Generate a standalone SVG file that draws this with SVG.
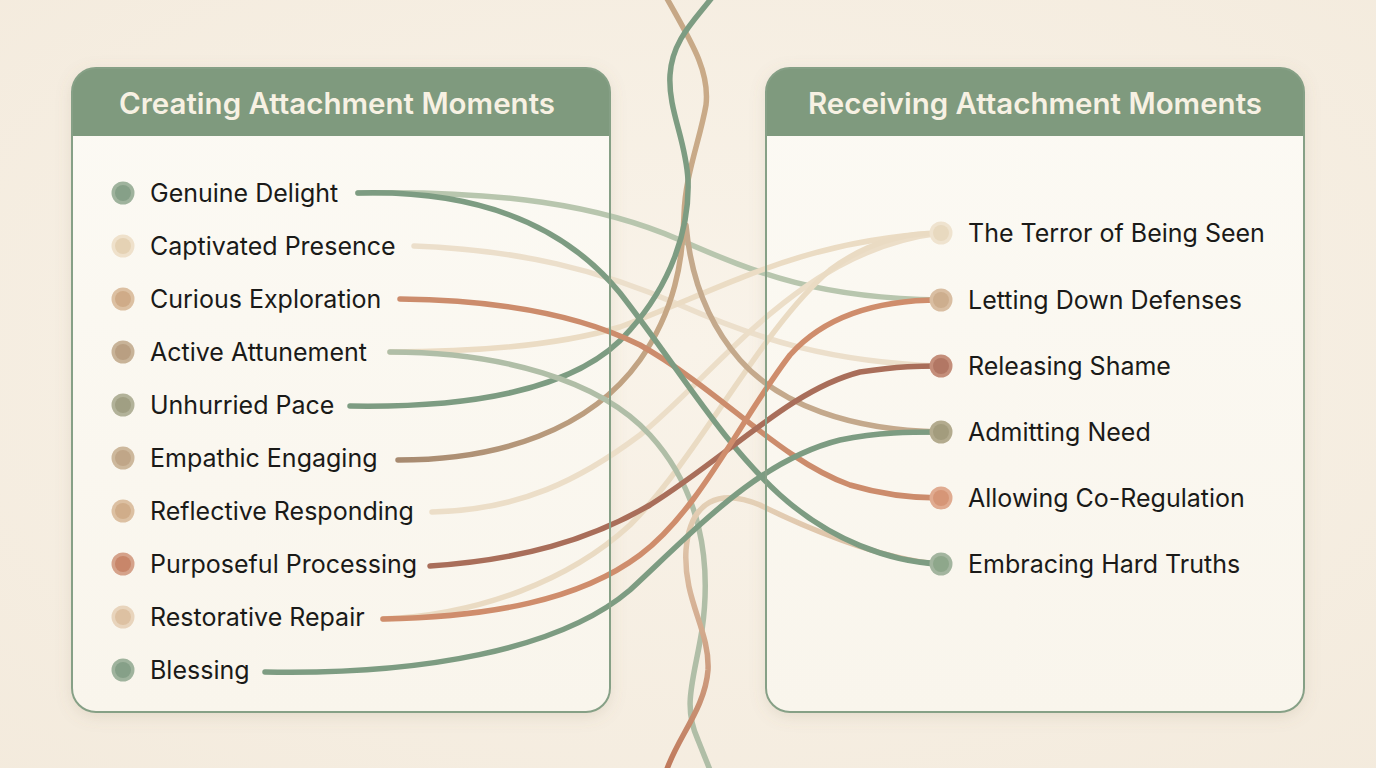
<svg xmlns="http://www.w3.org/2000/svg" width="1376" height="768" viewBox="0 0 1376 768">
<defs>
<radialGradient id="bg" cx="0.5" cy="0.45" r="0.8">
<stop offset="0" stop-color="#f9f3e9"/>
<stop offset="1" stop-color="#f3eadc"/>
</radialGradient>
<linearGradient id="body" x1="0" y1="0" x2="0" y2="1">
<stop offset="0" stop-color="#fcfaf4"/>
<stop offset="1" stop-color="#f9f5ec"/>
</linearGradient>
<linearGradient id="gO" gradientUnits="userSpaceOnUse" x1="0" y1="500" x2="0" y2="768">
<stop offset="0" stop-color="#e4d0b6"/>
<stop offset="0.5" stop-color="#d2a98c"/>
<stop offset="1" stop-color="#c07a5c"/>
</linearGradient>
<linearGradient id="gH" gradientUnits="userSpaceOnUse" x1="398" y1="0" x2="700" y2="0">
<stop offset="0" stop-color="#a78a70"/>
<stop offset="1" stop-color="#c9aa88"/>
</linearGradient>
<filter id="sh" x="-10%" y="-10%" width="120%" height="120%">
<feDropShadow dx="0" dy="4" stdDeviation="8" flood-color="#8a7a60" flood-opacity="0.18"/>
</filter>
<style>
.panel{fill:url(#body)}
.border{fill:none;stroke:#86a086;stroke-width:2}
.head{fill:#7f9a7e}
.htxt{font-family:Inter,"Noto Sans",sans-serif;font-weight:600;font-size:29.5px;fill:#f7f1e3;text-anchor:middle}
.item{font-family:Inter,"Noto Sans",sans-serif;font-size:25px;fill:#1a1a18}
.ln{fill:none;stroke-width:5.5;stroke-linecap:round}
</style>
</defs>
<rect width="1376" height="768" fill="url(#bg)"/>

<g id="panel-left">
<rect x="72" y="68" width="538" height="644" rx="24" class="panel" filter="url(#sh)"/>
<path class="head" d="M72,136 V92 a24,24 0 0 1 24,-24 H586 a24,24 0 0 1 24,24 V136 Z"/>
<text class="htxt" x="337" y="114">Creating Attachment Moments</text>
</g>
<g id="panel-right">
<rect x="766" y="68" width="538" height="644" rx="24" class="panel" filter="url(#sh)"/>
<path class="head" d="M766,136 V92 a24,24 0 0 1 24,-24 H1280 a24,24 0 0 1 24,24 V136 Z"/>
<text class="htxt" x="1035" y="114">Receiving Attachment Moments</text>
</g>

<g id="connectors">
<path class="ln" stroke="#b8c6ae" d="M358,193 C500,190 600,205 680,240 C760,275 820,298 940,300"/>
<path class="ln" stroke="#ecdfcb" d="M414,246 C520,250 600,270 680,305 C760,340 830,362 940,366"/>
<path class="ln" stroke="#ebdcc4" d="M390,352 C480,352 560,345 620,327 C720,290 800,240 940,233"/>
<path class="ln" stroke="#ecdec8" d="M432,512 C520,510 580,480 640,435 C720,370 800,250 940,233"/>
<path class="ln" stroke="#eadbc3" d="M383,619 C480,615 570,580 630,525 C700,455 760,330 830,270 C870,240 910,233 940,233"/>
<path class="ln" stroke="#c4a98c" d="M940,432 C850,430 780,405 740,360 C705,320 690,270 686,225"/>
<path class="ln" stroke="url(#gH)" d="M398,460 C500,460 590,430 640,360 C675,310 683,260 684,215 C685,175 700,140 706,105 C710,70 690,40 665,-5"/>
<path class="ln" stroke="#7d9c82" d="M350,406 C470,408 580,390 630,330 C670,285 690,230 688,180 C686,140 668,110 670,75 C672,40 695,20 714,-5"/>
<path class="ln" stroke="#cc8c6c" d="M400,299 C500,300 580,315 640,345 C720,390 780,460 850,485 C890,497 920,498 940,498"/>
<path class="ln" stroke="#b0bea7" d="M390,352 C500,352 600,380 650,435 C700,490 712,560 702,630 C694,680 682,705 698,740 L712,775"/>
<path class="ln" stroke="url(#gO)" d="M940,564 C880,560 800,525 760,505 C720,488 690,500 686,550 C683,600 710,630 708,670 C705,710 675,740 665,775"/>
<path class="ln" stroke="#7d9c82" d="M358,193 C470,190 560,220 620,293 C680,370 720,440 780,495 C830,540 890,562 940,564"/>
<path class="ln" stroke="#a96e5a" d="M430,566 C520,560 590,540 650,505 C730,455 790,390 860,372 C900,366 920,366 940,366"/>
<path class="ln" stroke="#cf8d6c" d="M383,619 C490,617 580,600 640,555 C700,510 740,420 790,355 C830,310 890,300 940,300"/>
<path class="ln" stroke="#7d9c82" d="M265,672 C420,675 560,650 630,590 C700,525 760,460 840,440 C880,432 910,432 940,432"/>
</g>

<g id="borders">
<rect x="72" y="68" width="538" height="644" rx="24" class="border"/>
<rect x="766" y="68" width="538" height="644" rx="24" class="border"/>
</g>

<g id="l1"><circle cx="123" cy="193" r="11.5" fill="#9fb39d"/><circle cx="123" cy="193" r="8" fill="#86a088"/><text class="item" x="150" y="202">Genuine Delight</text></g>
<g id="l2"><circle cx="123" cy="246" r="11.5" fill="#efe1cb"/><circle cx="123" cy="246" r="8" fill="#e5d2b4"/><text class="item" x="150" y="255">Captivated Presence</text></g>
<g id="l3"><circle cx="123" cy="299" r="11.5" fill="#dcc0a2"/><circle cx="123" cy="299" r="8" fill="#cfab88"/><text class="item" x="150" y="308">Curious Exploration</text></g>
<g id="l4"><circle cx="123" cy="352" r="11.5" fill="#c8b398"/><circle cx="123" cy="352" r="8" fill="#b99f82"/><text class="item" x="150" y="361">Active Attunement</text></g>
<g id="l5"><circle cx="123" cy="405" r="11.5" fill="#b2b299"/><circle cx="123" cy="405" r="8" fill="#a09f83"/><text class="item" x="150" y="414">Unhurried Pace</text></g>
<g id="l6"><circle cx="123" cy="458" r="11.5" fill="#cdb89c"/><circle cx="123" cy="458" r="8" fill="#c0a688"/><text class="item" x="150" y="467">Empathic Engaging</text></g>
<g id="l7"><circle cx="123" cy="511" r="11.5" fill="#dcc0a2"/><circle cx="123" cy="511" r="8" fill="#d0ad8a"/><text class="item" x="150" y="520">Reflective Responding</text></g>
<g id="l8"><circle cx="123" cy="564" r="11.5" fill="#d5a28a"/><circle cx="123" cy="564" r="8" fill="#c8866a"/><text class="item" x="150" y="573">Purposeful Processing</text></g>
<g id="l9"><circle cx="123" cy="617" r="11.5" fill="#e8d4bc"/><circle cx="123" cy="617" r="8" fill="#ddc1a2"/><text class="item" x="150" y="626">Restorative Repair</text></g>
<g id="l10"><circle cx="123" cy="670" r="11.5" fill="#9fb39d"/><circle cx="123" cy="670" r="8" fill="#86a088"/><text class="item" x="150" y="679">Blessing</text></g>

<g id="r1"><circle cx="941" cy="233" r="11.5" fill="#efe3cf"/><circle cx="941" cy="233" r="8" fill="#e8d9bf"/><text class="item" x="968" y="242">The Terror of Being Seen</text></g>
<g id="r2"><circle cx="941" cy="300" r="11.5" fill="#d9bea2"/><circle cx="941" cy="300" r="8" fill="#cdae8e"/><text class="item" x="968" y="309">Letting Down Defenses</text></g>
<g id="r3"><circle cx="941" cy="366" r="11.5" fill="#c48e7a"/><circle cx="941" cy="366" r="8" fill="#b27764"/><text class="item" x="968" y="375">Releasing Shame</text></g>
<g id="r4"><circle cx="941" cy="432" r="11.5" fill="#b3ab8e"/><circle cx="941" cy="432" r="8" fill="#a39c7d"/><text class="item" x="968" y="441">Admitting Need</text></g>
<g id="r5"><circle cx="941" cy="498" r="11.5" fill="#e0ab90"/><circle cx="941" cy="498" r="8" fill="#d69677"/><text class="item" x="968" y="507">Allowing Co-Regulation</text></g>
<g id="r6"><circle cx="941" cy="564" r="11.5" fill="#a3b59f"/><circle cx="941" cy="564" r="8" fill="#8ea78b"/><text class="item" x="968" y="573">Embracing Hard Truths</text></g>
</svg>
